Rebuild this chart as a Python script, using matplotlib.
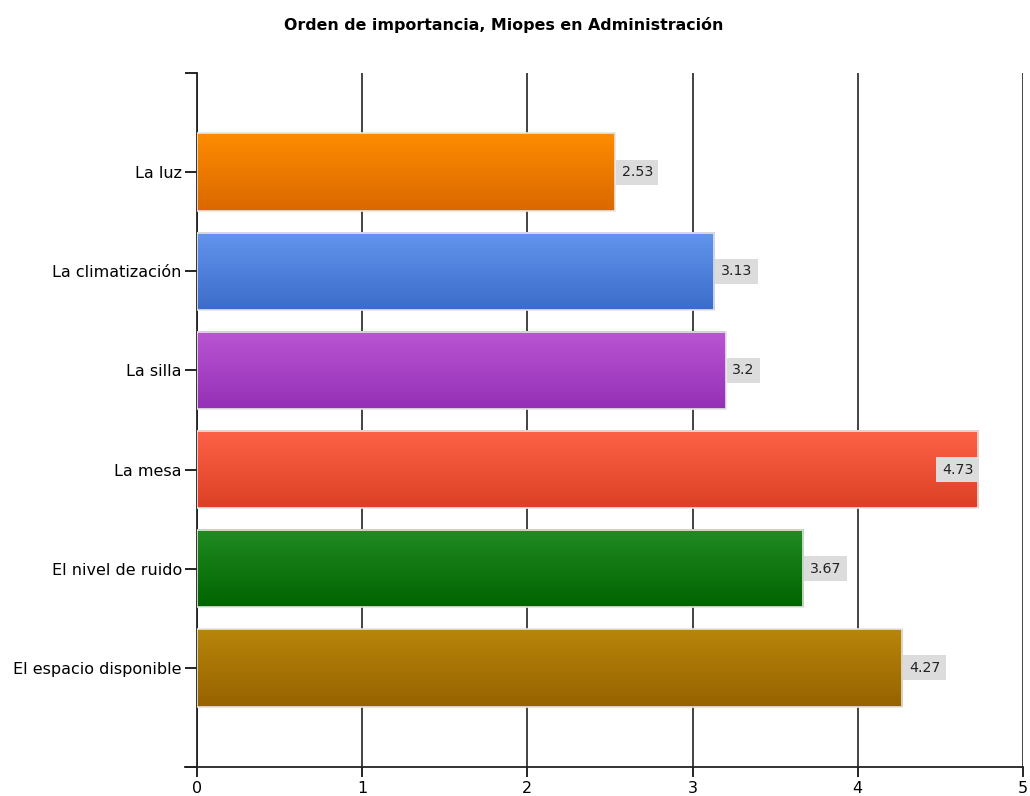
import matplotlib.pyplot as plt
import matplotlib.colors as mcolors
import numpy as np

categories = ["La luz", "La climatización", "La silla", "La mesa",
              "El nivel de ruido", "El espacio disponible"]
values = [2.53, 3.13, 3.2, 4.73, 3.67, 4.27]
labels = ["2.53", "3.13", "3.2", "4.73", "3.67", "4.27"]
top_colors = ["#ff8c00", "#6495ed", "#ba55d3", "#ff6347", "#228b22", "#b8860b"]
bottom_colors = ["#d96800", "#3a6cc9", "#9430b6", "#dc4024", "#006400", "#966200"]

plt.rcParams['font.family'] = ['DejaVu Sans']

fig = plt.figure(figsize=(10.3, 7.96), dpi=100)
ax = fig.add_axes([0.1913, 0.0364, 0.8019, 0.8719])

pos = np.arange(1, len(categories) + 1)
h = 0.78

ax.barh(pos, values, height=h, facecolor='none', edgecolor='#e6e6e6',
        linewidth=1.2, zorder=4)

# vertical gradient fill for each bar
for p, v, c1, c2 in zip(pos, values, top_colors, bottom_colors):
    cmap = mcolors.LinearSegmentedColormap.from_list('g', [c1, c2])
    grad = np.linspace(0, 1, 256).reshape(-1, 1)
    ax.imshow(grad, cmap=cmap, aspect='auto', interpolation='nearest',
              extent=[0, v, p + h / 2, p - h / 2], zorder=3)

for p, v, lab in zip(pos, values, labels):
    if v > 4.5:
        ax.text(v - 0.03, p, lab, ha='right', va='center', fontsize=10.2,
                color='#222222', zorder=5,
                bbox=dict(facecolor='#dcdcdc', edgecolor='none', pad=4))
    else:
        ax.text(v + 0.04, p, lab, ha='left', va='center', fontsize=10.2,
                color='#222222', zorder=5,
                bbox=dict(facecolor='#dcdcdc', edgecolor='none', pad=4))

ax.set_xlim(0, 5)
ax.set_ylim(7, 0)
ax.set_xticks(range(0, 6))
ax.set_yticks(pos)
ax.set_yticklabels(categories)
ax.set_yticks([0, 7], minor=True)
ax.tick_params(axis='y', which='both', length=9, width=1.2, labelsize=11.5, pad=2)
ax.tick_params(axis='x', length=7, width=1.2, labelsize=11.5, pad=3)

ax.grid(axis='x', color='#222222', linewidth=1.2, zorder=1)
ax.set_axisbelow(True)
for s in ['top', 'right']:
    ax.spines[s].set_visible(False)
for s in ['left', 'bottom']:
    ax.spines[s].set_linewidth(1.3)
    ax.spines[s].set_color('#222222')
ax.spines['bottom'].set_bounds(-0.07, 5)
ax.spines['bottom'].set_zorder(6)

fig.text(0.489, 0.968, "Orden de importancia, Miopes en Administración",
         ha='center', va='center', fontsize=11.4, fontweight='bold')

fig.savefig("out.png", dpi=100)
